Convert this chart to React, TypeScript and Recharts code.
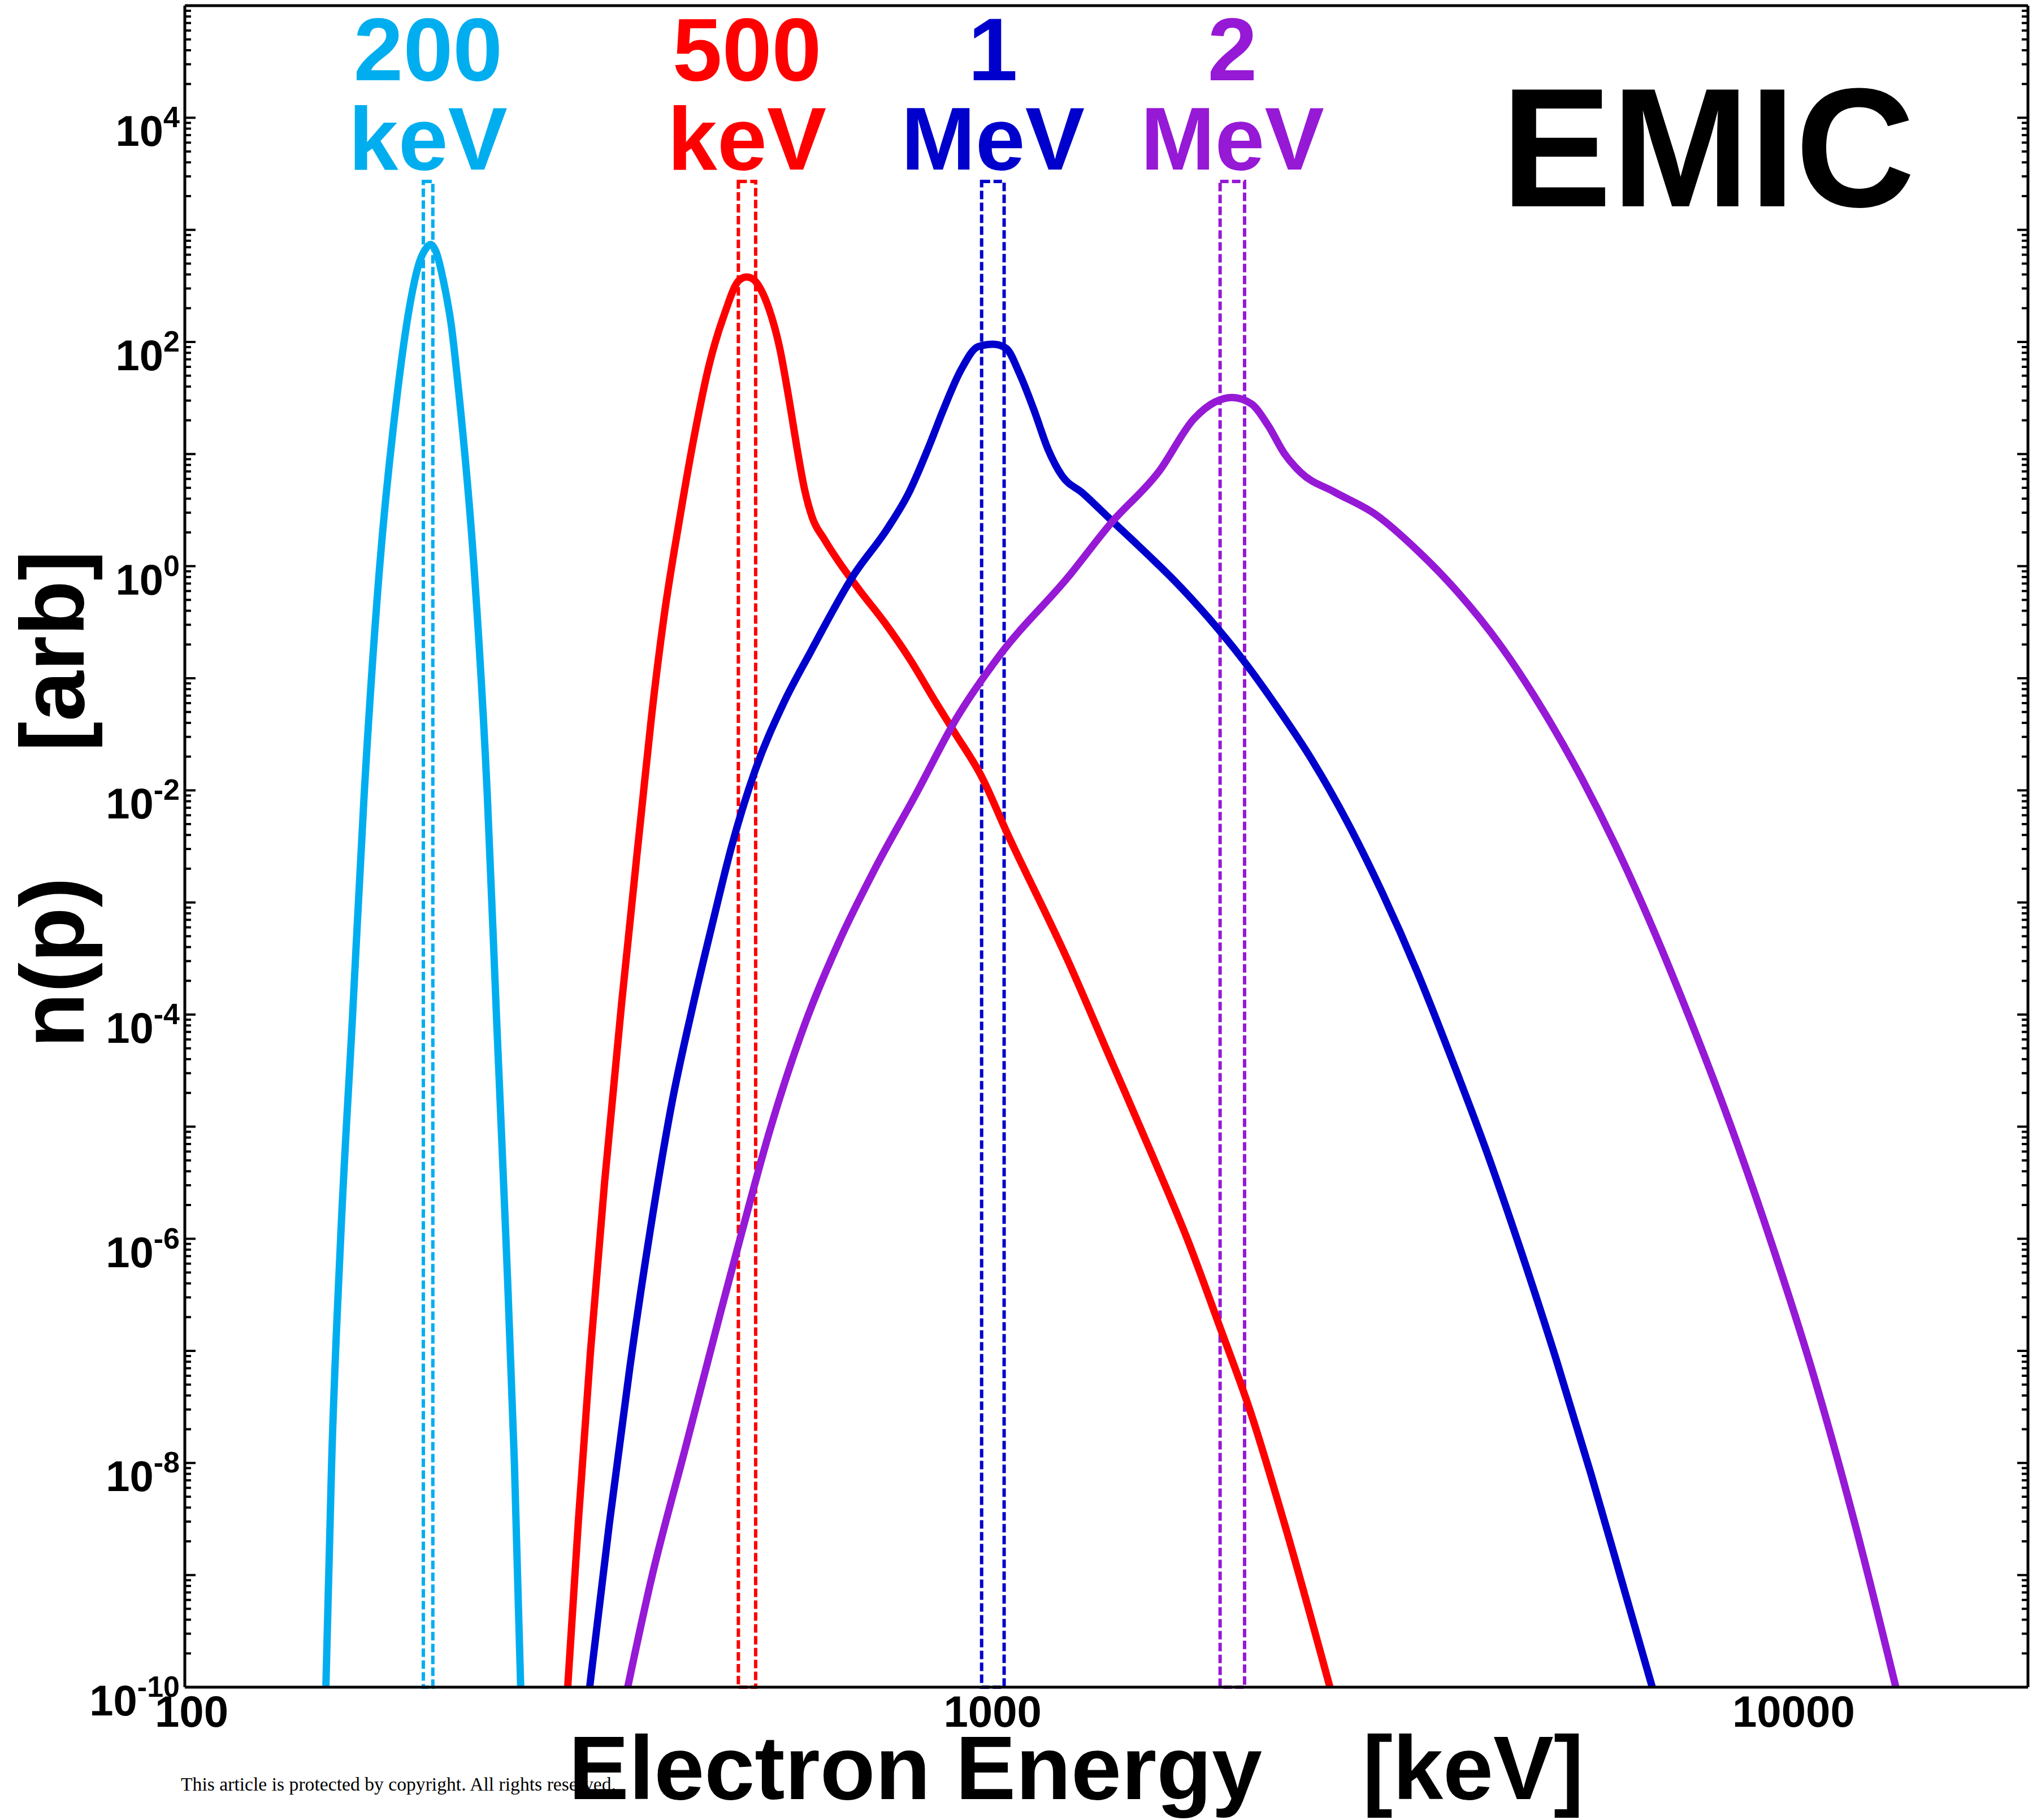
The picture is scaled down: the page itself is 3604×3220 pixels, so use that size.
import { LineChart, Line, XAxis, YAxis, ReferenceArea } from 'recharts'

const FONT = "'Liberation Sans', Arial, Helvetica, sans-serif"
const W = 3604
const H = 3220

// 200 keV
const cyanE = [150.0, 152.5, 156.5, 161.9, 167.5, 175.1, 183.8, 190.9, 196.1, 199.4, 202.7, 206.0, 210.5, 215.1, 219.8, 229.6, 238.5, 245.0, 251.7, 257.9, 262.6]
const cyanN = [1e-10, 1e-8, 1.0e-6, 9.3e-5, 9.5e-3, 1.0, 30.5, 211, 505, 661, 741, 631, 339, 141, 35.5, 1.0, 9.5e-3, 9.3e-5, 1.0e-6, 1e-8, 1e-10]

// 500 keV
const redE = [300.6, 310.1, 321.0, 334.2, 351.0, 371.5, 382.4, 396.5, 414.2, 432.2, 451.6, 471.8, 492, 503, 513, 521.4, 536.6, 552.4, 568.6, 581.0, 593.8, 606.7, 629.1, 656.8, 695.8, 747.6, 803.8, 863.8, 915.0, 988.3, 1060, 1269, 1431, 1614, 1784, 1963, 2136, 2360, 2689]
const redN = [1e-10, 3.16e-9, 1.0e-7, 3.16e-6, 1.26e-4, 6.31e-3, 4.47e-2, 0.355, 2.51, 14.1, 63.1, 178, 355, 380, 360, 311, 194, 91.0, 29.3, 11.4, 4.86, 2.76, 1.72, 1.07, 0.608, 0.314, 0.148, 0.063, 0.0325, 0.0132, 4.36e-3, 2.92e-4, 4.02e-5, 5.53e-6, 1.0e-6, 1.58e-7, 2.97e-8, 2.86e-9, 1e-10]

// 1 MeV
const blueE = [320.2, 338.8, 359.6, 381.9, 405.6, 430.7, 457.3, 480.8, 515.8, 558.7, 605.1, 682.3, 754.2, 801.1, 850.7, 885.2, 930.7, 978.6, 1022, 1060, 1103, 1148, 1196, 1244, 1321, 1431, 1551, 1714, 1894, 2094, 2314, 2557, 2827, 3124, 3453, 3816, 4218, 4662, 5153, 5694, 6295, 6792]
const blueN = [1e-10, 2.86e-9, 7.33e-8, 1.31e-6, 1.63e-5, 1.19e-4, 7.18e-4, 3.04e-3, 1.54e-2, 5.93e-2, 0.175, 0.811, 2.18, 4.49, 12.1, 24.9, 56.0, 91.0, 95.5, 87.7, 51.2, 24.9, 11.0, 6.44, 4.49, 2.61, 1.52, 0.76, 0.35, 0.146, 0.0542, 0.0184, 5.21e-3, 1.23e-3, 2.44e-4, 4.02e-5, 6.03e-6, 7.59e-7, 8.38e-8, 8.0e-9, 6.61e-10, 1e-10]

// 2 MeV
const purpleE = [357.2, 381.9, 422.2, 466.7, 495.5, 536.6, 593.3, 655.8, 724.7, 817.2, 921.5, 1039, 1269, 1431, 1646, 1820, 1930, 2030, 2146, 2251, 2361, 2475, 2722, 3065, 3451, 3886, 4375, 4928, 5549, 6102, 6710, 7556, 8511, 9581, 10790, 12160, 13680]
const purpleN = [1e-10, 8.91e-10, 1.41e-8, 2.24e-7, 1.12e-6, 8.91e-6, 7.94e-5, 4.47e-4, 1.91e-3, 9.12e-3, 4.53e-2, 0.158, 0.811, 2.39, 7.03, 20.7, 29, 32, 28, 18, 10, 6.8, 4.6, 2.9, 1.4, 0.582, 0.203, 5.61e-2, 1.27e-2, 3.3e-3, 7.38e-4, 9.44e-5, 1.02e-5, 8.91e-7, 6.17e-8, 2.88e-9, 1e-10]

// dashed energy windows and their labels
const windowLo = [198.5, 491, 988, 1961]
const windowHi = [204, 516, 1054, 2104]
const windowTop = 2700
const windowNumber = ['200', '500', '1', '2']
const windowUnit = ['keV', 'keV', 'MeV', 'MeV']
const colors = ['#00aeef', '#ff0000', '#0000cc', '#9619d6']

const xLabelTicks = [100, 1000, 10000]
const xMinorTicks = [200, 300, 400, 500, 600, 700, 800, 900, 2000, 3000, 4000, 5000, 6000, 7000, 8000, 9000]
const yLabelTicks = [1e-10, 1e-8, 1e-6, 1e-4, 1e-2, 1, 1e2, 1e4]
const yMajorTicks = [1e-10, 1e-9, 1e-8, 1e-7, 1e-6, 1e-5, 1e-4, 1e-3, 1e-2, 1e-1, 1, 10, 100, 1e3, 1e4]
const yMinorTicks: number[] = []
yMajorTicks.forEach((d) => {
  for (let m = 2; m <= 9; m++) yMinorTicks.push(m * d)
})

const zip = (e: number[], n: number[]) => e.map((v, i) => ({ e: v, n: n[i] }))
const series = [zip(cyanE, cyanN), zip(redE, redN), zip(blueE, blueN), zip(purpleE, purpleN)]

const X_DOMAIN: [number, number] = [100, 20000]
const Y_DOMAIN: [number, number] = [1e-10, 1e5]
const tickStyle = { stroke: '#000', strokeWidth: 4 }
const frameStyle = { stroke: '#000', strokeWidth: 5 }

function XTick(props: any) {
  const { x, y, payload } = props
  return (
    <text x={x + 12} y={y + 70} textAnchor="middle" fontFamily={FONT} fontWeight="bold" fontSize={78} fill="#000">
      {payload.value}
    </text>
  )
}

function YTick(props: any) {
  const { x, y, payload } = props
  const exp = Math.round(Math.log10(payload.value))
  return (
    <text x={x - 9} y={y + 50} textAnchor="end" fontFamily={FONT} fontWeight="bold" fontSize={76} fill="#000">
      10
      <tspan dy={-33} fontSize={52}>
        {exp}
      </tspan>
    </text>
  )
}

function NoLabel() {
  return <g />
}

function WindowLabel(props: any) {
  const { viewBox, top, unit, color } = props
  const cx = viewBox.x + viewBox.width / 2
  const y0 = viewBox.y
  return (
    <g>
      <text x={cx} y={y0 - 179} textAnchor="middle" fontFamily={FONT} fontWeight="bold" fontSize={158} fill={color}>
        {top}
      </text>
      <text x={cx} y={y0 - 21} textAnchor="middle" fontFamily={FONT} fontWeight="bold" fontSize={158} fill={color}>
        {unit}
      </text>
    </g>
  )
}

// ticks point inward on all four sides, as in the original frame
function tickAxisX(id: string, orientation: 'top' | 'bottom', ticks: number[], size: number, line: boolean) {
  return (
    <XAxis
      key={id}
      xAxisId={id}
      orientation={orientation}
      type="number"
      scale="log"
      domain={X_DOMAIN}
      allowDataOverflow
      ticks={ticks}
      interval={0}
      mirror
      tick={<NoLabel />}
      tickSize={size}
      tickLine={tickStyle}
      axisLine={line ? frameStyle : false}
      height={1}
    />
  )
}

function tickAxisY(id: string, orientation: 'left' | 'right', ticks: number[], size: number, line: boolean) {
  return (
    <YAxis
      key={id}
      yAxisId={id}
      orientation={orientation}
      type="number"
      scale="log"
      domain={Y_DOMAIN}
      allowDataOverflow
      ticks={ticks}
      interval={0}
      mirror
      tick={<NoLabel />}
      tickSize={size}
      tickLine={tickStyle}
      axisLine={line ? frameStyle : false}
      width={1}
    />
  )
}

export default function App() {
  return (
    <div style={{ position: 'absolute', left: 0, top: 0, width: W, height: H, background: '#fff' }}>
      <svg width={W} height={H} style={{ position: 'absolute', left: 0, top: 0 }}>
        <text x={320} y={3168} fontFamily="'Liberation Serif', 'DejaVu Serif', serif" fontSize={34} textLength={770} lengthAdjust="spacingAndGlyphs" fill="#000">
          This article is protected by copyright. All rights reserved.
        </text>
      </svg>
      <div style={{ position: 'absolute', left: 0, top: 0 }}>
        <LineChart width={W} height={H} margin={{ top: 10, right: 16, bottom: 234, left: 326 }}>
          <XAxis
            xAxisId="x"
            dataKey="e"
            type="number"
            scale="log"
            domain={X_DOMAIN}
            allowDataOverflow
            ticks={xLabelTicks}
            interval={0}
            tick={<XTick />}
            tickLine={false}
            axisLine={false}
            tickSize={0}
            tickMargin={0}
            height={1}
          />
          <YAxis
            yAxisId="y"
            type="number"
            scale="log"
            domain={Y_DOMAIN}
            allowDataOverflow
            ticks={yLabelTicks}
            interval={0}
            tick={<YTick />}
            tickLine={false}
            axisLine={false}
            tickSize={0}
            tickMargin={0}
            width={1}
          />
          {tickAxisX('xbMajor', 'bottom', xLabelTicks, 19, true)}
          {tickAxisX('xbMinor', 'bottom', xMinorTicks, 10, false)}
          {tickAxisX('xtMajor', 'top', xLabelTicks, 19, true)}
          {tickAxisX('xtMinor', 'top', xMinorTicks, 10, false)}
          {tickAxisY('ylMajor', 'left', yMajorTicks, 19, true)}
          {tickAxisY('ylMinor', 'left', yMinorTicks, 10, false)}
          {tickAxisY('yrMajor', 'right', yMajorTicks, 19, true)}
          {tickAxisY('yrMinor', 'right', yMinorTicks, 10, false)}
          {series.map((d, i) => (
            <Line
              key={i}
              xAxisId="x"
              yAxisId="y"
              data={d}
              dataKey="n"
              type="monotone"
              stroke={colors[i]}
              strokeWidth={13}
              strokeLinejoin="round"
              dot={false}
              activeDot={false}
              isAnimationActive={false}
            />
          ))}
          {windowLo.map((lo, i) => (
            <ReferenceArea
              key={'w' + i}
              xAxisId="x"
              yAxisId="y"
              x1={lo}
              x2={windowHi[i]}
              y1={1e-10}
              y2={windowTop}
              fill="none"
              fillOpacity={0}
              stroke={colors[i]}
              strokeWidth={6}
              strokeDasharray="15 6"
              ifOverflow="visible"
              label={<WindowLabel top={windowNumber[i]} unit={windowUnit[i]} color={colors[i]} />}
            />
          ))}
        </LineChart>
      </div>
      <svg width={W} height={H} style={{ position: 'absolute', left: 0, top: 0, pointerEvents: 'none' }}>
        <text x={1006} y={3183} fontFamily={FONT} fontWeight="bold" fontSize={160} fill="#000" xmlSpace="preserve" style={{ whiteSpace: 'pre' }}>
          {'Electron Energy    [keV]'}
        </text>
        <text
          transform="translate(148,1414) rotate(-90)"
          textAnchor="middle"
          fontFamily={FONT}
          fontWeight="bold"
          fontSize={160}
          fill="#000"
          xmlSpace="preserve"
          style={{ whiteSpace: 'pre' }}
        >
          {'n(p)     [arb]'}
        </text>
        <text x={3022} y={365} textAnchor="middle" fontFamily={FONT} fontWeight="bold" fontSize={300} textLength={732} lengthAdjust="spacingAndGlyphs" fill="#000">
          EMIC
        </text>
      </svg>
    </div>
  )
}
